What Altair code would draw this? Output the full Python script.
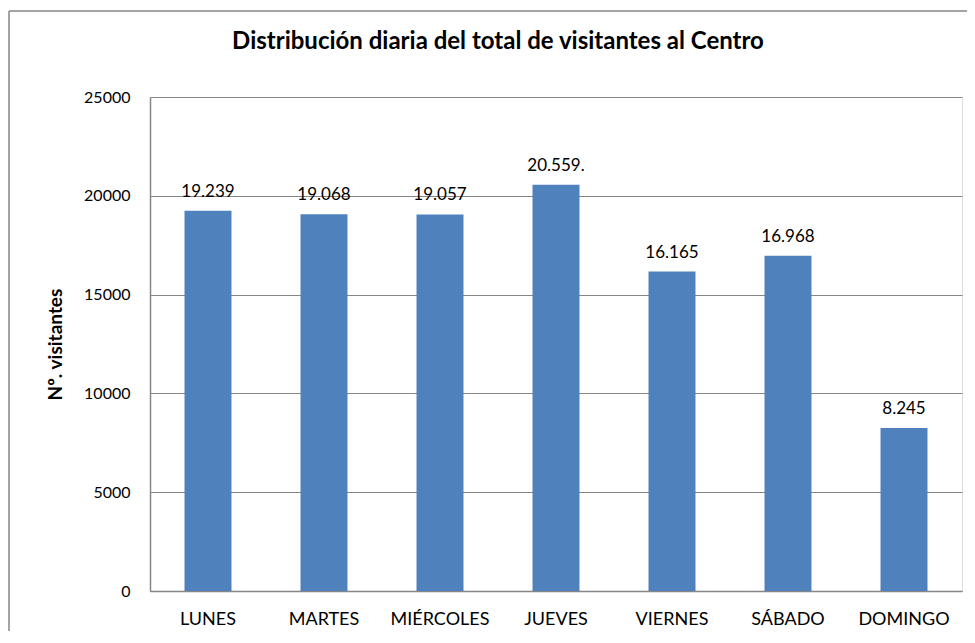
import altair as alt
import pandas as pd

days = ["LUNES", "MARTES", "MIÉRCOLES", "JUEVES", "VIERNES", "SÁBADO", "DOMINGO"]
visitors = [19239, 19068, 19057, 20559, 16165, 16968, 8245]
value_labels = ["19.239", "19.068", "19.057", "20.559.", "16.165", "16.968", "8.245"]
y_ticks = [0, 5000, 10000, 15000, 20000, 25000]
chart_title = "Distribución diaria del total de visitantes al Centro"

df = pd.DataFrame({"day": days, "visitors": visitors, "label": value_labels})

FONT = "Lato"
GRAY = "#868686"

x_enc = alt.X(
    "day:N",
    sort=days,
    scale=alt.Scale(paddingInner=0.595, paddingOuter=0.2975),
    axis=alt.Axis(
        title=None, labelAngle=0, labelFont=FONT, labelFontSize=18, labelColor="#000000",
        labelPadding=19, ticks=False, domainColor=GRAY, domainWidth=1.5, grid=False,
    ),
)
y_enc = alt.Y(
    "visitors:Q",
    scale=alt.Scale(domain=[0, 25000], nice=False),
    axis=alt.Axis(
        title="Nº. visitantes", titleFont=FONT, titleFontSize=19, titleFontWeight="bold",
        titleColor="#000000", titlePadding=18,
        values=y_ticks, format="d", labelFont=FONT, labelFontSize=16, labelColor="#000000",
        labelPadding=20, ticks=False, domainColor=GRAY, domainWidth=1.5,
        grid=True, gridColor=GRAY, gridWidth=1,
    ),
)

bars = alt.Chart(df).mark_bar(color="#4F81BD").encode(x=x_enc, y=y_enc)

text = alt.Chart(df).mark_text(
    font=FONT, fontSize=17, color="#000000", baseline="alphabetic", dy=-14
).encode(x=alt.X("day:N", sort=days), y="visitors:Q", text="label:N")

title_mark = alt.Chart(df.head(1)).mark_text(
    text=chart_title, font=FONT, fontSize=24, fontWeight="bold", color="#000000",
    align="center", baseline="alphabetic", clip=False,
).encode(x=alt.value(348), y=alt.value(-48))

frame_top = alt.Chart(df.head(1)).mark_rule(color=GRAY, strokeWidth=1.5, clip=False).encode(
    x=alt.value(-141), x2=alt.value(2000), y=alt.value(-86)
)
frame_left = alt.Chart(df.head(1)).mark_rule(color=GRAY, strokeWidth=1.5, clip=False).encode(
    x=alt.value(-141), y=alt.value(-86), y2=alt.value(2000)
)

chart = alt.layer(bars, text, title_mark, frame_top, frame_left).properties(
    width=812,
    height=494,
    autosize=alt.AutoSizeParams(type="none"),
    padding={"left": 142, "top": 89, "right": 5, "bottom": 40},
).configure_view(stroke=None).configure(background="white")

chart.save("out.html", embed_options={"renderer": "svg", "actions": False})
